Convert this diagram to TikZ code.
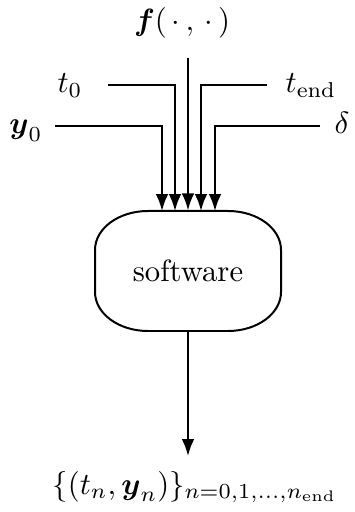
\documentclass[tikz,border=0pt]{standalone}
\usepackage{amsmath}
\usetikzlibrary{arrows.meta}
\begin{document}
\begin{tikzpicture}[x=0.3257pt,y=-0.3257pt,
  conn/.style={line width=0.65pt,-{Latex[length=5.5pt,width=4.1pt]}},
  lbl/.style={inner sep=0pt,anchor=base}]
\useasboundingbox (0,0) rectangle (354,512);
% invisible node for the box
\node[minimum width=60.6pt,minimum height=39.1pt,inner sep=0pt] (sw) at (188,271) {software};
\draw[line width=0.65pt]
  (148,211) -- (228,211)
  .. controls (257.3,211) and (281,228.4) .. (281,250)
  -- (281,292)
  .. controls (281,313.6) and (257.3,331) .. (228,331)
  -- (148,331)
  .. controls (118.7,331) and (95,313.6) .. (95,292)
  -- (95,250)
  .. controls (95,228.4) and (118.7,211) .. (148,211) -- cycle;
% labels
\node[lbl] (f) at (182,31) {$\boldsymbol{f}(\,\cdot\,,\,\cdot\,)$};
\node[lbl] (t0) at (70,92.5) {$t_0$};
\node[lbl] (tend) at (311,92.5) {$t_{\mathrm{end}}$};
\node[lbl] (y0) at (26,134) {$\boldsymbol{y}_0$};
\node[lbl] (delta) at (342,134) {$\delta$};
\node[lbl] (out) at (195,494) {$\{(t_n,\boldsymbol{y}_n)\}_{n=0,1,\ldots,n_{\mathrm{end}}}$};
% connector helper coordinates
\coordinate (fs) at (188,58);
\coordinate (t0s) at (108,85);
\coordinate (tends) at (267,85);
\coordinate (y0s) at (55,126);
\coordinate (ds) at (320,126);
\coordinate (outend) at (188,456);
% connectors
\draw[conn] (fs) -- (fs |- sw.north);
\draw[conn] (t0s) -| (175,211);
\draw[conn] (tends) -| (201,211);
\draw[conn] (y0s) -| (162,211);
\draw[conn] (ds) -| (215,211);
\draw[conn] (sw.south) -- (outend);
\end{tikzpicture}
\end{document}
